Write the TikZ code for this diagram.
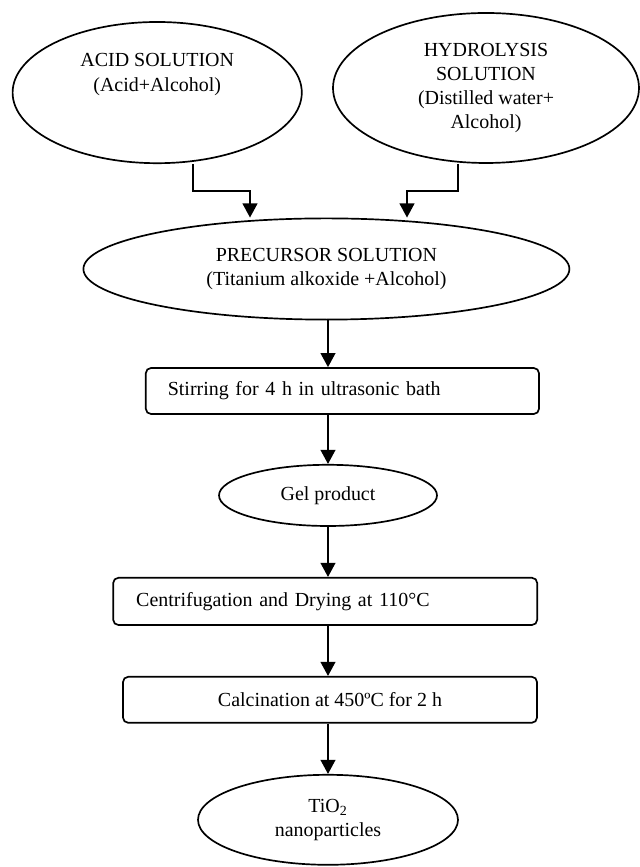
\documentclass[tikz,border=0pt]{standalone}
\usepackage{fontspec}
\setmainfont{Liberation Serif}
\usetikzlibrary{shapes.geometric,arrows.meta}

\begin{document}
\begin{tikzpicture}[
		font=\fontsize{14.2}{17.2}\selectfont,
		solution/.style={ellipse, draw, line width=1.2pt, inner sep=0pt, align=center},
		stepbox/.style={rectangle, draw, line width=1.2pt, rounded corners=0.13cm, inner sep=0pt},
		flow/.style={-{Triangle[length=10pt, width=10.5pt]}, line width=1.2pt}
	]
		\useasboundingbox (0, 0) rectangle (16, 21.675);
		\coordinate (axis) at (8.2, 0);
		\node[solution, minimum width=7.23cm, minimum height=3.53cm] (acid) at (3.93, 19.36) {};
		\node[align=center] (acidtext) at (3.93, 19.81) {ACID SOLUTION\\(Acid+Alcohol)};
		\node[solution, minimum width=7.65cm, minimum height=3.75cm] (hydro) at (12.15, 19.475) {HYDROLYSIS\\SOLUTION\\(Distilled water+\\Alcohol)};
		\node[solution, minimum width=12.15cm, minimum height=2.53cm] (prec) at (8.16, 14.95) {PRECURSOR SOLUTION\\(Titanium alkoxide +Alcohol)};
		\node[stepbox, minimum height=1.15cm, text width=8.73cm, inner xsep=0.55cm, align=left] (stir) at (8.56, 11.9) {Stirring for 4 h in ultrasonic bath};
		\node[solution, minimum width=5.45cm, minimum height=1.53cm] (gel) at (8.2, 9.29) {Gel product};
		\node[stepbox, minimum height=1.18cm, text width=9.45cm, inner xsep=0.575cm, align=left] (centri) at (8.13, 6.64) {Centrifugation and Drying at 110°C};
		\node[stepbox, minimum width=10.35cm, minimum height=1.15cm] (calc) at (8.25, 4.18) {Calcination at 450ºC for 2 h};
		\node[solution, minimum width=6.5cm, minimum height=2.25cm] (tio) at (8.2, 1.18) {TiO\textsubscript{2}\\nanoparticles};

		% the two solutions feed the precursor
		\coordinate (acidout) at (4.825, 16.9);
		\coordinate (acidbend) at (6.25, 16.9);
		\coordinate (hydroout) at (11.45, 16.9);
		\coordinate (hydrobend) at (10.175, 16.9);
		\draw[flow] (acidout |- acid.south) -- (acidout) -- (acidbend) -- (acidbend |- prec.north);
		\draw[flow] (hydroout |- hydro.south) -- (hydroout) -- (hydrobend) -- (hydrobend |- prec.north);

		% main line
		\draw[flow] (axis |- prec.south) -- (axis |- stir.north);
		\draw[flow] (axis |- stir.south) -- (axis |- gel.north);
		\draw[flow] (axis |- gel.south) -- (axis |- centri.north);
		\draw[flow] (axis |- centri.south) -- (axis |- calc.north);
		\draw[flow] (axis |- calc.south) -- (axis |- tio.north);
	\end{tikzpicture}
\end{document}
